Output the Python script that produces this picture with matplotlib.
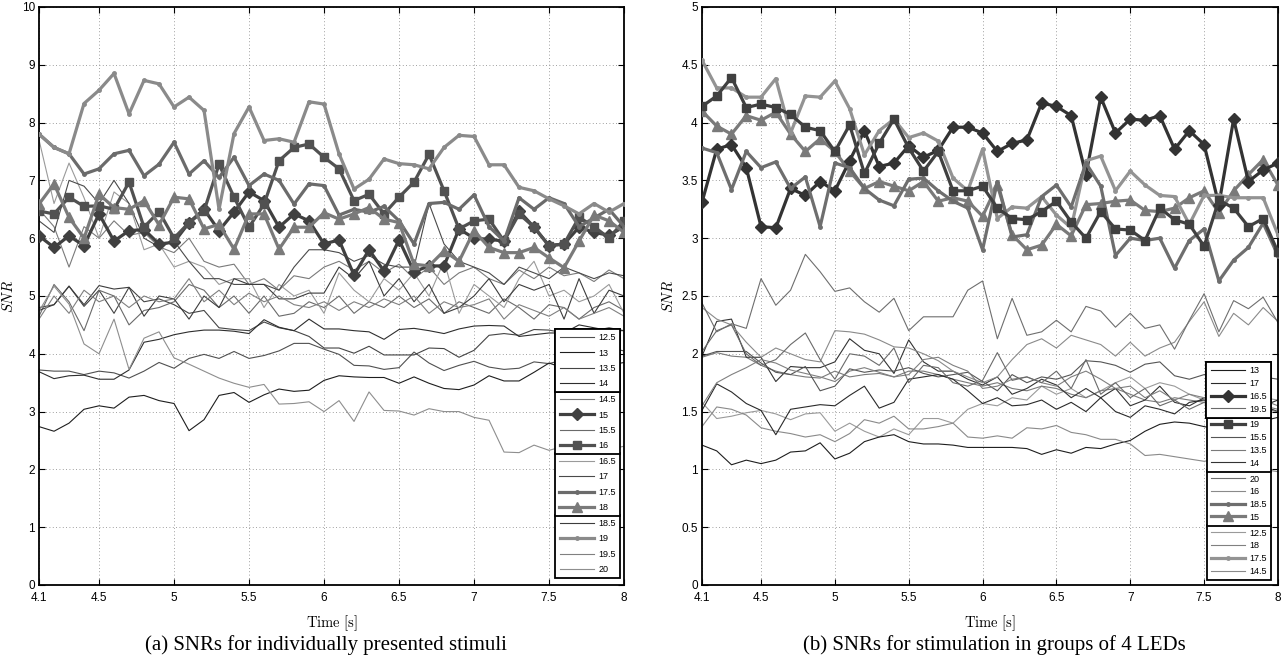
import matplotlib
matplotlib.use('Agg')
import matplotlib.pyplot as plt

plt.rcParams['font.family'] = ['Liberation Sans', 'DejaVu Sans']
plt.rcParams['mathtext.fontset'] = 'cm'

# time axis (s)
time_s = [4.1, 4.2, 4.3, 4.4, 4.5, 4.6, 4.7, 4.8, 4.9, 5.0,
          5.1, 5.2, 5.3, 5.4, 5.5, 5.6, 5.7, 5.8, 5.9, 6.0,
          6.1, 6.2, 6.3, 6.4, 6.5, 6.6, 6.7, 6.8, 6.9, 7.0,
          7.1, 7.2, 7.3, 7.4, 7.5, 7.6, 7.7, 7.8, 7.9, 8.0]

# ---- (a) individually presented stimuli, SNR per frequency ----
a_125 = [3.72, 3.70, 3.70, 3.64, 3.70, 3.67, 3.58, 3.70, 3.85, 3.75, 3.92, 3.99, 3.92, 4.04, 3.92, 3.97, 4.05, 4.18, 4.18, 4.08,
         3.99, 3.80, 3.79, 3.73, 3.76, 4.03, 3.84, 3.71, 3.80, 3.87, 3.77, 3.73, 3.75, 3.86, 3.83, 3.90, 3.95, 4.00, 4.10, 4.05]
a_13 = [2.74, 2.66, 2.80, 3.04, 3.10, 3.06, 3.25, 3.28, 3.19, 3.14, 2.67, 2.86, 3.28, 3.33, 3.16, 3.29, 3.39, 3.35, 3.37, 3.54,
        3.62, 3.60, 3.59, 3.59, 3.49, 3.60, 3.49, 3.40, 3.38, 3.46, 3.62, 3.53, 3.53, 3.68, 3.84, 3.75, 3.85, 3.90, 3.80, 3.85]
a_135 = [4.80, 4.85, 5.17, 4.82, 5.10, 4.70, 5.15, 4.90, 4.95, 4.85, 4.70, 4.75, 4.45, 4.42, 4.40, 4.55, 4.45, 4.40, 4.30, 4.10,
         4.10, 4.01, 4.13, 3.98, 3.98, 3.98, 4.10, 4.09, 3.94, 4.06, 4.32, 4.35, 4.32, 4.42, 4.41, 4.36, 4.36, 4.40, 4.45, 4.40]
a_14 = [3.69, 3.57, 3.62, 3.63, 3.56, 3.56, 3.72, 4.20, 4.25, 4.33, 4.38, 4.41, 4.41, 4.39, 4.35, 4.59, 4.46, 4.40, 4.60, 4.43,
        4.43, 4.40, 4.38, 4.25, 4.42, 4.44, 4.40, 4.35, 4.43, 4.48, 4.49, 4.48, 4.30, 4.33, 4.36, 4.36, 4.50, 4.45, 4.40, 4.40]
a_145 = [6.50, 6.20, 5.50, 6.20, 6.00, 6.30, 6.05, 6.10, 5.85, 5.75, 6.00, 5.60, 5.50, 5.55, 5.20, 5.30, 5.10, 5.35, 5.30, 5.50,
         5.60, 5.45, 5.60, 5.40, 5.55, 5.30, 5.50, 5.20, 5.40, 5.50, 5.30, 5.20, 5.45, 5.30, 5.50, 5.35, 5.40, 5.25, 5.45, 5.30]
a_15 = [6.04, 5.84, 6.04, 5.87, 6.42, 5.95, 6.13, 6.15, 5.90, 5.93, 6.27, 6.50, 6.13, 6.45, 6.80, 6.65, 6.19, 6.42, 6.30, 5.90,
        5.97, 5.36, 5.80, 5.43, 5.97, 5.42, 5.52, 5.52, 6.16, 6.00, 5.98, 5.95, 6.47, 6.19, 5.87, 5.90, 6.19, 6.10, 6.05, 6.20]
a_155 = [4.65, 5.20, 4.90, 4.40, 5.10, 5.00, 4.50, 4.75, 4.80, 4.90, 5.20, 5.10, 4.80, 5.00, 4.70, 5.00, 4.65, 4.70, 4.90, 4.80,
         5.00, 4.70, 4.90, 4.80, 5.00, 4.80, 4.95, 4.70, 4.90, 4.80, 4.70, 4.95, 4.80, 4.60, 4.85, 4.80, 4.60, 4.80, 4.90, 4.75]
a_16 = [6.47, 6.42, 6.71, 6.55, 6.56, 6.50, 6.97, 6.19, 6.46, 6.00, 6.27, 6.47, 7.28, 6.71, 6.19, 6.59, 7.34, 7.57, 7.63, 7.40,
        7.20, 6.65, 6.76, 6.42, 6.71, 6.97, 7.45, 6.82, 6.16, 6.30, 6.33, 5.95, 6.42, 6.19, 5.87, 5.90, 6.36, 6.20, 6.00, 6.30]
a_165 = [7.70, 6.60, 7.30, 6.70, 6.00, 6.80, 6.60, 5.80, 5.90, 5.50, 5.60, 5.50, 5.20, 5.30, 5.30, 4.80, 5.20, 5.00, 5.10, 4.70,
         5.40, 5.10, 4.90, 5.30, 5.10, 5.40, 5.00, 5.60, 4.70, 5.20, 5.00, 4.80, 5.30, 5.60, 5.00, 5.10, 4.90, 5.00, 5.20, 4.70]
a_17 = [6.30, 6.10, 7.00, 6.90, 6.60, 7.00, 6.60, 6.00, 5.85, 5.95, 5.60, 5.30, 5.30, 5.20, 5.20, 5.20, 5.10, 5.50, 5.80, 5.80,
        5.75, 5.60, 5.70, 5.55, 5.50, 5.50, 6.60, 5.90, 5.60, 5.50, 5.40, 5.20, 5.50, 5.40, 5.30, 5.50, 5.40, 5.30, 5.40, 5.35]
a_175 = [7.80, 7.57, 7.46, 7.11, 7.20, 7.46, 7.52, 7.08, 7.28, 7.66, 7.11, 7.34, 7.05, 7.40, 6.91, 7.11, 7.00, 6.59, 6.94, 6.91,
         6.40, 6.50, 6.45, 6.55, 6.30, 5.90, 6.60, 6.62, 6.50, 6.75, 6.20, 5.95, 6.70, 6.50, 6.70, 6.60, 6.20, 6.35, 6.50, 6.20]
a_18 = [6.59, 6.94, 6.36, 6.00, 6.76, 6.53, 6.50, 6.65, 6.23, 6.71, 6.68, 6.16, 6.24, 5.81, 6.42, 6.42, 5.81, 6.19, 6.19, 6.44,
        6.33, 6.42, 6.53, 6.33, 6.27, 5.55, 5.52, 5.78, 5.60, 6.13, 5.84, 5.75, 5.75, 5.84, 5.66, 5.49, 5.95, 6.40, 6.30, 6.10]
a_185 = [4.75, 4.85, 5.17, 4.85, 5.18, 5.12, 5.15, 4.65, 5.00, 4.95, 4.60, 5.00, 4.80, 5.30, 5.20, 5.20, 4.95, 4.95, 5.05, 5.05,
         5.50, 5.30, 5.60, 5.00, 5.30, 4.90, 5.20, 4.70, 4.80, 5.00, 5.30, 4.90, 5.20, 5.10, 5.20, 4.60, 5.30, 4.70, 5.10, 5.00]
a_19 = [7.80, 7.57, 7.46, 8.33, 8.56, 8.85, 8.15, 8.73, 8.67, 8.27, 8.44, 8.21, 6.50, 7.81, 8.27, 7.69, 7.72, 7.66, 8.36, 8.32,
        7.46, 6.85, 7.02, 7.37, 7.29, 7.27, 7.20, 7.57, 7.78, 7.76, 7.27, 7.27, 6.88, 6.82, 6.68, 6.56, 6.42, 6.60, 6.45, 6.60]
a_195 = [4.60, 5.00, 4.70, 5.10, 4.90, 5.00, 4.80, 5.00, 4.90, 4.95, 5.30, 4.90, 5.10, 4.85, 5.05, 4.90, 5.00, 4.85, 4.80, 4.90,
         4.75, 4.90, 4.80, 4.95, 4.85, 5.00, 4.70, 4.90, 4.80, 4.85, 4.95, 4.60, 4.85, 4.75, 4.65, 4.80, 4.60, 4.70, 4.80, 4.65]
a_20 = [4.74, 5.17, 4.86, 4.17, 4.00, 4.60, 3.73, 4.27, 4.38, 3.93, 3.82, 3.70, 3.58, 3.49, 3.42, 3.47, 3.13, 3.14, 3.17, 3.00,
        3.19, 2.83, 3.34, 3.02, 3.01, 2.94, 3.05, 3.00, 3.00, 2.90, 2.85, 2.30, 2.29, 2.42, 2.33, 2.40, 2.45, 2.30, 2.35, 2.40]

# ---- (b) stimulation in groups of 4 LEDs ----
b_125 = [1.58, 1.44, 1.46, 1.49, 1.51, 1.48, 1.43, 1.48, 1.49, 1.33, 1.40, 1.33, 1.28, 1.35, 1.30, 1.44, 1.44, 1.40, 1.52, 1.57,
         1.55, 1.62, 1.60, 1.72, 1.65, 1.70, 1.62, 1.68, 1.75, 1.80, 1.70, 1.75, 1.72, 1.65, 1.60, 1.63, 1.60, 1.58, 1.62, 1.60]
b_13 = [1.21, 1.16, 1.04, 1.08, 1.05, 1.08, 1.15, 1.16, 1.23, 1.09, 1.14, 1.24, 1.28, 1.30, 1.24, 1.22, 1.22, 1.21, 1.19, 1.19,
        1.19, 1.19, 1.18, 1.13, 1.17, 1.14, 1.19, 1.18, 1.22, 1.25, 1.33, 1.39, 1.41, 1.40, 1.37, 1.35, 1.38, 1.40, 1.42, 1.45]
b_135 = [1.97, 2.01, 1.98, 1.97, 1.90, 1.85, 1.82, 1.80, 1.79, 1.85, 1.80, 1.82, 1.83, 1.80, 1.85, 1.85, 1.82, 1.78, 1.75, 1.72,
         1.75, 1.70, 1.68, 1.72, 1.70, 1.65, 1.62, 1.68, 1.70, 1.65, 1.60, 1.58, 1.62, 1.60, 1.58, 1.55, 1.60, 1.58, 1.55, 1.52]
b_14 = [1.98, 2.28, 2.30, 1.97, 1.97, 1.76, 1.89, 1.88, 1.88, 1.93, 2.13, 2.03, 2.00, 1.83, 2.12, 1.93, 1.85, 1.85, 1.78, 1.73,
        1.80, 1.65, 1.70, 1.78, 1.73, 1.62, 1.70, 1.62, 1.70, 1.55, 1.60, 1.72, 1.58, 1.55, 1.62, 1.65, 1.60, 1.58, 1.55, 1.50]
b_145 = [1.37, 1.54, 1.52, 1.47, 1.36, 1.33, 1.31, 1.28, 1.30, 1.24, 1.31, 1.43, 1.40, 1.46, 1.35, 1.35, 1.37, 1.40, 1.28, 1.27,
         1.29, 1.27, 1.36, 1.35, 1.38, 1.32, 1.30, 1.26, 1.26, 1.22, 1.12, 1.13, 1.11, 1.09, 1.07, 1.09, 1.03, 1.05, 1.00, 0.98]
b_155 = [1.98, 2.02, 2.02, 2.02, 1.92, 1.84, 1.82, 1.89, 1.68, 1.72, 1.87, 1.84, 1.86, 1.85, 1.88, 1.83, 1.80, 1.82, 1.84, 1.76,
         1.68, 1.82, 1.75, 1.80, 1.78, 1.82, 1.94, 1.93, 1.90, 1.84, 1.91, 1.93, 1.81, 1.78, 1.82, 1.84, 1.80, 1.78, 1.80, 1.78]
b_16 = [2.40, 2.30, 2.25, 2.10, 1.97, 2.05, 2.00, 1.95, 1.93, 2.20, 2.19, 2.17, 2.12, 2.06, 2.05, 2.00, 1.94, 1.85, 1.80, 1.75,
        1.80, 1.95, 2.08, 2.13, 2.05, 2.16, 2.12, 2.08, 1.98, 2.10, 1.98, 2.05, 2.10, 2.28, 2.45, 2.15, 2.35, 2.25, 2.40, 2.28]
b_17 = [1.51, 1.74, 1.67, 1.57, 1.51, 1.30, 1.52, 1.54, 1.56, 1.55, 1.64, 1.72, 1.53, 1.58, 1.78, 1.80, 1.82, 1.78, 1.68, 1.57,
        1.62, 1.55, 1.56, 1.60, 1.52, 1.58, 1.50, 1.62, 1.50, 1.45, 1.55, 1.52, 1.48, 1.58, 1.60, 1.55, 1.62, 1.58, 1.55, 1.60]
b_18 = [1.55, 1.75, 1.82, 1.88, 1.95, 1.92, 1.86, 1.83, 1.80, 1.76, 1.85, 1.88, 1.84, 1.80, 1.82, 1.95, 1.97, 1.90, 1.85, 1.70,
        1.72, 1.78, 1.80, 1.75, 1.72, 1.80, 1.85, 1.78, 1.70, 1.72, 1.62, 1.68, 1.60, 1.65, 1.62, 1.60, 1.62, 1.58, 1.60, 1.55]
b_19 = [4.14, 4.23, 4.39, 4.13, 4.16, 4.13, 4.07, 3.96, 3.93, 3.75, 3.98, 3.56, 3.82, 4.03, 3.78, 3.58, 3.75, 3.41, 3.41, 3.45,
        3.26, 3.17, 3.16, 3.23, 3.32, 3.14, 3.00, 3.23, 3.08, 3.07, 2.98, 3.26, 3.16, 3.12, 2.93, 3.33, 3.26, 3.10, 3.17, 2.88]
b_165 = [3.31, 3.77, 3.81, 3.61, 3.10, 3.09, 3.43, 3.37, 3.49, 3.41, 3.67, 3.93, 3.62, 3.65, 3.80, 3.70, 3.76, 3.96, 3.96, 3.91,
         3.75, 3.82, 3.85, 4.17, 4.14, 4.06, 3.55, 4.22, 3.91, 4.03, 4.02, 4.06, 3.77, 3.93, 3.81, 3.29, 4.03, 3.49, 3.59, 3.65]
b_15 = [4.10, 3.97, 3.90, 4.06, 4.02, 4.09, 3.90, 3.75, 3.86, 3.75, 3.58, 3.43, 3.49, 3.45, 3.41, 3.49, 3.32, 3.35, 3.32, 3.19,
        3.46, 3.03, 2.90, 2.94, 3.12, 3.02, 3.29, 3.30, 3.32, 3.33, 3.24, 3.23, 3.26, 3.35, 3.41, 3.22, 3.41, 3.55, 3.68, 3.46]
b_175 = [4.54, 4.30, 4.30, 4.22, 4.22, 4.38, 3.91, 4.23, 4.22, 4.36, 4.12, 3.72, 3.93, 4.03, 3.87, 3.91, 3.84, 3.52, 3.41, 3.77,
         3.17, 3.27, 3.26, 3.36, 3.20, 3.09, 3.67, 3.71, 3.41, 3.58, 3.46, 3.37, 3.36, 3.12, 3.37, 3.37, 3.35, 3.35, 3.35, 3.03]
b_185 = [3.78, 3.74, 3.42, 3.75, 3.61, 3.66, 3.43, 3.53, 3.10, 3.65, 3.61, 3.43, 3.33, 3.28, 3.51, 3.52, 3.41, 3.32, 3.26, 2.90,
         3.49, 3.01, 3.03, 3.36, 3.46, 3.27, 3.65, 3.45, 2.85, 3.00, 2.98, 3.00, 2.74, 2.98, 3.08, 2.63, 2.81, 2.92, 3.13, 2.85]
b_195 = [2.02, 2.20, 2.25, 2.00, 1.90, 1.95, 2.08, 2.18, 1.95, 1.78, 2.00, 1.98, 1.90, 2.05, 1.75, 1.90, 1.88, 1.75, 1.72, 1.77,
         2.01, 1.77, 1.80, 1.75, 1.85, 1.70, 1.95, 1.65, 1.75, 1.62, 1.70, 1.55, 1.60, 1.52, 1.58, 1.50, 1.55, 1.48, 1.52, 1.50]
b_20 = [2.44, 2.19, 2.26, 2.22, 2.65, 2.42, 2.55, 2.86, 2.71, 2.54, 2.57, 2.45, 2.36, 2.48, 2.20, 2.32, 2.32, 2.32, 2.55, 2.63,
        2.13, 2.48, 2.16, 2.19, 2.29, 2.19, 2.41, 2.37, 2.23, 2.35, 2.22, 2.25, 2.04, 2.29, 2.52, 2.19, 2.46, 2.39, 2.49, 2.27]

# ---- line styles: label -> (colour, width, marker, markersize) ----
thin = 0.8
thick = 2.3
style_a = {
    '12.5': ('#505050', thin, None, 0), '13': ('#1e1e1e', thin, None, 0),
    '13.5': ('#444444', thin, None, 0), '14': ('#2e2e2e', thin, None, 0),
    '14.5': ('#7a7a7a', thin, None, 0), '15': ('#404040', thick, 'D', 6.5),
    '15.5': ('#6a6a6a', thin, None, 0), '16': ('#515151', thick, 's', 6),
    '16.5': ('#9a9a9a', thin, None, 0), '17': ('#4a4a4a', thin, None, 0),
    '17.5': ('#6b6b6b', thick, '.', 5), '18': ('#7a7a7a', thick, '^', 7),
    '18.5': ('#3c3c3c', thin, None, 0), '19': ('#8a8a8a', thick, '.', 5),
    '19.5': ('#808080', thin, None, 0), '20': ('#8e8e8e', thin, None, 0),
}
style_b = {
    '13': ('#1e1e1e', thin, None, 0), '17': ('#2a2a2a', thin, None, 0),
    '16.5': ('#333333', thick, 'D', 6.5), '19.5': ('#6a6a6a', thin, None, 0),
    '19': ('#404040', thick, 's', 6), '15.5': ('#555555', thin, None, 0),
    '13.5': ('#7a7a7a', thin, None, 0), '14': ('#333333', thin, None, 0),
    '20': ('#6e6e6e', thin, None, 0), '16': ('#8a8a8a', thin, None, 0),
    '18.5': ('#6e6e6e', thick, '.', 5), '15': ('#7a7a7a', thick, '^', 7),
    '12.5': ('#9a9a9a', thin, None, 0), '18': ('#808080', thin, None, 0),
    '17.5': ('#939393', thick, '.', 5), '14.5': ('#8a8a8a', thin, None, 0),
}

series_a = {'12.5': a_125, '13': a_13, '13.5': a_135, '14': a_14, '14.5': a_145, '15': a_15,
            '15.5': a_155, '16': a_16, '16.5': a_165, '17': a_17, '17.5': a_175, '18': a_18,
            '18.5': a_185, '19': a_19, '19.5': a_195, '20': a_20}
series_b = {'12.5': b_125, '13': b_13, '13.5': b_135, '14': b_14, '14.5': b_145, '15': b_15,
            '15.5': b_155, '16': b_16, '16.5': b_165, '17': b_17, '17.5': b_175, '18': b_18,
            '18.5': b_185, '19': b_19, '19.5': b_195, '20': b_20}

groups_a = [['12.5', '13', '13.5', '14'], ['14.5', '15', '15.5', '16'],
            ['16.5', '17', '17.5', '18'], ['18.5', '19', '19.5', '20']]
groups_b = [['13', '17', '16.5', '19.5'], ['19', '15.5', '13.5', '14'],
            ['20', '16', '18.5', '15'], ['12.5', '18', '17.5', '14.5']]

xticks = [4.1, 4.5, 5, 5.5, 6, 6.5, 7, 7.5, 8]
xticklabels = ['4.1', '4.5', '5', '5.5', '6', '6.5', '7', '7.5', '8']


def draw(ax, series, style, groups, ymax, yticks, yticklabels, leg_right, leg_bottom, leg_space):
    lines = {}
    # thin lines first, thick marked lines on top
    order = sorted(series, key=lambda k: style[k][1])
    for k in order:
        c, lw, mk, ms = style[k]
        ln, = ax.plot(time_s, series[k], color=c, lw=lw, marker=mk, ms=ms,
                      mfc=c, mec=c, zorder=3 if lw > 1 else 2)
        lines[k] = ln
    ax.set_xlim(4.1, 8)
    ax.set_ylim(0, ymax)
    ax.set_xticks(xticks)
    ax.set_xticklabels(xticklabels)
    ax.set_yticks(yticks)
    ax.set_yticklabels(yticklabels)
    ax.tick_params(direction='in', top=True, right=True, length=4, width=0.8,
                   labelsize=8.5)
    ax.tick_params(axis='x', pad=5)
    ax.tick_params(axis='y', pad=3)
    for sp in ax.spines.values():
        sp.set_linewidth(1.3)
    ax.grid(True, linestyle=(0, (1, 3)), color='0.5', linewidth=0.6)
    ax.set_axisbelow(True)
    ax.set_xlabel(r'$\mathrm{Time\ [s]}$', fontsize=10.5, labelpad=7)
    ax.set_ylabel(r'$SNR$', fontsize=10.5, labelpad=4)

    # four stacked legend boxes, built from the bottom one upwards
    y = leg_bottom
    for grp in reversed(groups):
        leg = ax.legend([lines[k] for k in grp], grp, loc='lower right',
                        bbox_to_anchor=(leg_right, y), fontsize=6.5,
                        frameon=True, fancybox=False, framealpha=1,
                        edgecolor='black', borderpad=0.45, labelspacing=leg_space,
                        handlelength=3.8, handletextpad=0.5, borderaxespad=0)
        leg.get_frame().set_linewidth(1.3)
        leg.set_zorder(5)
        ax.add_artist(leg)
        ax.figure.canvas.draw()
        bb = leg.get_frame().get_window_extent().transformed(ax.transAxes.inverted())
        y = bb.y1 - 0.002


fig = plt.figure(figsize=(12.88, 6.59), dpi=100)
ax1 = fig.add_axes([0.0303, 0.1123, 0.4542, 0.8771])
ax2 = fig.add_axes([0.5450, 0.1123, 0.4472, 0.8771])

draw(ax1, series_a, style_a, groups_a, 10, list(range(11)), [str(i) for i in range(11)],
     0.993, 0.012, 0.7)
yt = [0, 0.5, 1, 1.5, 2, 2.5, 3, 3.5, 4, 4.5, 5]
draw(ax2, series_b, style_b, groups_b, 5, yt, ['0', '0.5', '1', '1.5', '2', '2.5', '3', '3.5', '4', '4.5', '5'],
     0.988, 0.009, 0.41)

fig.text(0.253, 0.013, '(a) SNRs for individually presented stimuli', ha='center',
         family='Liberation Serif', fontsize=15)
fig.text(0.772, 0.013, '(b) SNRs for stimulation in groups of 4 LEDs', ha='center',
         family='Liberation Serif', fontsize=15)

fig.savefig('out.png', dpi=100)
